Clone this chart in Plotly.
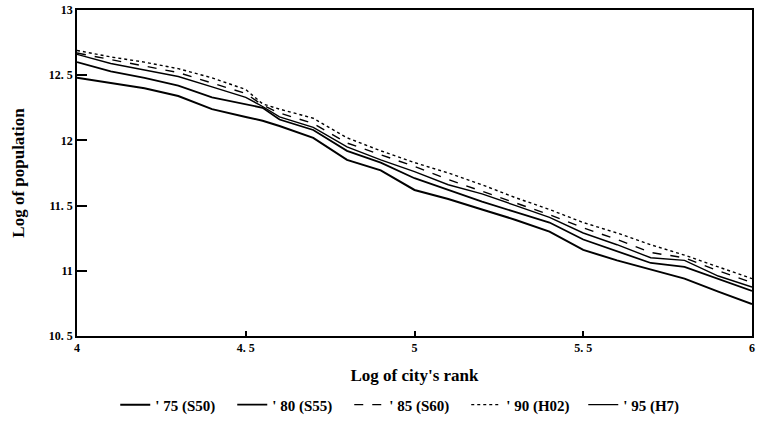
import plotly.graph_objects as go

log_rank = [4.0, 4.1, 4.2, 4.3, 4.4, 4.5, 4.55, 4.6, 4.7, 4.8, 4.9, 5.0,
            5.1, 5.2, 5.3, 5.4, 5.5, 5.6, 5.7, 5.8, 5.9, 6.0]

pop_75 = [12.48, 12.44, 12.40, 12.34, 12.24, 12.18, 12.15, 12.11, 12.02, 11.85, 11.77,
          11.62, 11.55, 11.47, 11.39, 11.30, 11.16, 11.08, 11.01, 10.94, 10.84, 10.745]
pop_80 = [12.60, 12.53, 12.48, 12.42, 12.33, 12.28, 12.25, 12.16, 12.08, 11.92, 11.83,
          11.71, 11.62, 11.53, 11.45, 11.37, 11.24, 11.15, 11.06, 11.03, 10.94, 10.845]
pop_85 = [12.67, 12.62, 12.57, 12.52, 12.44, 12.36, 12.27, 12.21, 12.13, 11.98, 11.89,
          11.80, 11.70, 11.61, 11.52, 11.43, 11.33, 11.24, 11.14, 11.10, 11.00, 10.91]
pop_90 = [12.69, 12.64, 12.60, 12.55, 12.48, 12.39, 12.28, 12.24, 12.17, 12.02, 11.92,
          11.83, 11.75, 11.66, 11.56, 11.47, 11.37, 11.29, 11.20, 11.12, 11.03, 10.94]
pop_95 = [12.66, 12.59, 12.54, 12.49, 12.41, 12.33, 12.26, 12.18, 12.10, 11.95, 11.85,
          11.76, 11.66, 11.59, 11.50, 11.41, 11.29, 11.20, 11.10, 11.08, 10.96, 10.875]

series_names = ["' 75 (S50)", "' 80 (S55)", "' 85 (S60)", "' 90 (H02)", "' 95 (H7)"]

x_tick_vals = [4, 4.5, 5, 5.5, 6]
x_tick_text = ["4", "4. 5", "5", "5. 5", "6"]
y_tick_vals = [10.5, 11, 11.5, 12, 12.5, 13]
y_tick_text = ["10. 5", "11", "11. 5", "12", "12. 5", "13"]

FONT = "Liberation Serif"

styles = [
    dict(width=2.0, dash="solid"),
    dict(width=1.8, dash="solid"),
    dict(width=1.4, dash="dash"),
    dict(width=1.4, dash="dot"),
    dict(width=1.4, dash="solid"),
]

fig = go.Figure()
for name, ys, st in zip(series_names, [pop_75, pop_80, pop_85, pop_90, pop_95], styles):
    fig.add_trace(go.Scatter(
        x=log_rank, y=ys, mode="lines", name=name,
        line=dict(color="black", width=st["width"], dash=st["dash"]),
    ))

fig.update_layout(
    width=757, height=426,
    margin=dict(l=77, r=5, t=10, b=86),
    paper_bgcolor="white", plot_bgcolor="white",
    font=dict(family=FONT, color="black", size=12, weight="bold"),
    legend=dict(orientation="h", x=0.49, xanchor="center", y=-0.262, yanchor="bottom",
                font=dict(family=FONT, size=15, weight="bold"),
                itemwidth=30, entrywidth=72, entrywidthmode="pixels",
                traceorder="normal"),
    xaxis=dict(
        range=[4, 6], tickvals=x_tick_vals, ticktext=x_tick_text,
        ticks="inside", ticklen=5, tickcolor="black", tickwidth=1.5,
        showline=True, linecolor="black", linewidth=1.5, mirror=True,
        showgrid=False, zeroline=False, automargin=False,
        tickfont=dict(family=FONT, size=12, weight="bold"),
        title=dict(text="Log of city's rank", standoff=15,
                   font=dict(family=FONT, size=17, weight="bold")),
    ),
    yaxis=dict(
        range=[10.5, 13], tickvals=y_tick_vals, ticktext=y_tick_text,
        ticks="inside", ticklen=10, tickcolor="black", tickwidth=1.5,
        showline=True, linecolor="black", linewidth=1.5, mirror=True,
        showgrid=False, zeroline=False, automargin=False,
        tickfont=dict(family=FONT, size=12, weight="bold"),
        title=dict(text="Log of population", standoff=20,
                   font=dict(family=FONT, size=17, weight="bold")),
    ),
)

fig.write_html("out.html", config={"displayModeBar": False},
               post_script="document.body.style.margin='0';")
